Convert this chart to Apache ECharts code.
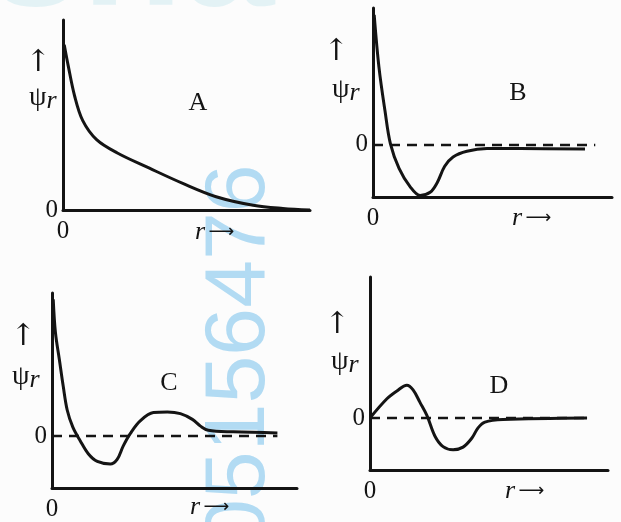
<!DOCTYPE html>
<html>
<head>
<meta charset="utf-8">
<script src="https://cdn.jsdelivr.net/npm/echarts@6/dist/echarts.min.js"></script>
<style>
html, body { margin: 0; padding: 0; background: #fcfcfc; }
#main { width: 621px; height: 522px; }
</style>
</head>
<body>
<div id="main"></div>
<script>
// curves, [r, psi] with psi = 0 on the dashed line
var curveA = [[0.05, 0.87], [0.21, 0.76], [0.47, 0.60], [0.8, 0.47], [1.36, 0.37], [2.2, 0.30],
    [3.5, 0.22], [4.85, 0.14], [6.2, 0.07], [7.7, 0.025], [8.9, 0.008], [10, 0]];
var curveB = [[0.05, 2.5], [0.25, 1.49], [0.5, 0.66], [0.73, 0.02], [1.09, -0.45], [1.55, -0.80],
    [1.97, -0.97], [2.39, -0.91], [2.68, -0.73], [3.0, -0.41], [3.35, -0.23], [3.93, -0.12],
    [4.77, -0.07], [6.15, -0.07], [8.87, -0.08]];
var curveC = [[0.05, 2.63], [0.14, 1.99], [0.30, 1.47], [0.46, 0.95], [0.62, 0.5], [0.85, 0.17],
    [1.15, -0.09], [1.48, -0.34], [1.85, -0.49], [2.38, -0.54], [2.66, -0.45], [2.91, -0.19],
    [3.2, 0.05], [3.6, 0.29], [4.14, 0.45], [4.71, 0.46], [5.24, 0.43], [5.73, 0.32],
    [6.06, 0.19], [6.38, 0.11], [7.4, 0.08], [9.2, 0.06]];
var curveD = [[0, 0], [0.71, 0.37], [1.13, 0.52], [1.55, 0.63], [1.81, 0.54], [2.1, 0.30],
    [2.39, 0.05], [2.73, -0.35], [3.07, -0.55], [3.49, -0.61], [3.91, -0.56], [4.29, -0.38],
    [4.54, -0.19], [4.83, -0.08], [5.59, -0.03], [9.12, 0]];
var zeroB = [[0, 0], [9.3, 0]];
var zeroC = [[0, 0], [9.2, 0]];
var zeroD = [[0, 0], [9.12, 0]];

var panelNames = ['A', 'B', 'C', 'D'];
var yMin = [0, -1, -1, -1];
var yMax = [1, 2.63, 2.75, 2.71];
var rMax = 10;

var ink = '#141414';
var serif = '"Liberation Serif", "DejaVu Serif", serif';

var grids = [
    { left: 63, top: 20, width: 247, height: 190 },
    { left: 373, top: 8, width: 239, height: 189 },
    { left: 52, top: 293, width: 245, height: 195 },
    { left: 370, top: 277, width: 238, height: 193 }
];

function onlyZero(v) { return v === 0 ? '0' : ''; }

var xAxes = grids.map(function (g, i) {
    return {
        gridIndex: i, type: 'value', min: 0, max: rMax, interval: rMax,
        axisLine: { onZero: false, lineStyle: { color: ink, width: 3 } },
        axisTick: { show: false }, splitLine: { show: false },
        axisLabel: { formatter: onlyZero, color: ink, fontFamily: serif, fontSize: 25, margin: 9 }
    };
});
var yAxes = grids.map(function (g, i) {
    return {
        gridIndex: i, type: 'value', min: yMin[i], max: yMax[i], interval: 1,
        axisLine: { onZero: false, lineStyle: { color: ink, width: 3 } },
        axisTick: { show: false }, splitLine: { show: false },
        axisLabel: { formatter: onlyZero, color: ink, fontFamily: serif, fontSize: 25, margin: 5 }
    };
});

function curve(data, i) {
    return {
        type: 'line', xAxisIndex: i, yAxisIndex: i, data: data, smooth: 0.35,
        showSymbol: false, silent: true,
        lineStyle: { color: ink, width: 3 }
    };
}
function dashed(data, i) {
    return {
        type: 'line', xAxisIndex: i, yAxisIndex: i, data: data,
        showSymbol: false, silent: true,
        lineStyle: { color: ink, width: 2.5, type: [10, 7] }
    };
}

// axis captions, panel letters and the faint watermark of the scan
var labelPos = [
    { arrow: [38, 63], psi: [29, 98], letter: [198, 103], r: [195, 232] },
    { arrow: [336, 52], psi: [332, 90], letter: [518, 93], r: [512, 218] },
    { arrow: [23, 337], psi: [12, 377], letter: [169, 383], r: [190, 507] },
    { arrow: [337, 325], psi: [331, 362], letter: [499, 386], r: [505, 491] }
];
var graphics = [
    {
        type: 'text', x: -10, y: 42, z: -10, silent: true,
        style: { text: 'sha', fill: '#e3f2f5', font: 'bold 165px "Liberation Sans", sans-serif',
            textVerticalAlign: 'bottom' }
    },
    {
        type: 'text', x: 240, y: 547, rotation: Math.PI / 2, z: -10, silent: true,
        style: { text: '05156476', fill: '#b2dbf3', font: '86px "Liberation Sans", sans-serif',
            textAlign: 'left', textVerticalAlign: 'middle' }
    }
];
labelPos.forEach(function (p, i) {
    graphics.push({
        type: 'text', x: p.arrow[0], y: p.arrow[1], silent: true,
        style: { text: '↑', fill: ink, font: '30px "DejaVu Serif", serif', textAlign: 'center', textVerticalAlign: 'middle' }
    });
    graphics.push({
        type: 'text', x: p.psi[0], y: p.psi[1], silent: true,
        style: {
            text: '{a|ψ}{b|r}', textVerticalAlign: 'middle',
            rich: {
                a: { fill: ink, fontFamily: serif, fontSize: 28 },
                b: { fill: ink, fontFamily: serif, fontSize: 26, fontStyle: 'italic', padding: [6, 0, 0, 0] }
            }
        }
    });
    graphics.push({
        type: 'text', x: p.letter[0], y: p.letter[1], silent: true,
        style: { text: panelNames[i], fill: ink, font: '26px ' + serif, textAlign: 'center', textVerticalAlign: 'middle' }
    });
    graphics.push({
        type: 'text', x: p.r[0], y: p.r[1], silent: true,
        style: {
            text: '{r|r} {a|⟶}', textVerticalAlign: 'middle',
            rich: {
                r: { fill: ink, fontFamily: serif, fontSize: 26, fontStyle: 'italic' },
                a: { fill: ink, fontFamily: '"DejaVu Sans", sans-serif', fontSize: 18 }
            }
        }
    });
});

var chart = echarts.init(document.getElementById('main'), null, { renderer: 'canvas' });
chart.setOption({
    backgroundColor: '#fcfcfc',
    animation: false,
    grid: grids,
    xAxis: xAxes,
    yAxis: yAxes,
    graphic: graphics,
    series: [
        curve(curveA, 0),
        dashed(zeroB, 1), curve(curveB, 1),
        dashed(zeroC, 2), curve(curveC, 2),
        dashed(zeroD, 3), curve(curveD, 3)
    ]
});
</script>
</body>
</html>
